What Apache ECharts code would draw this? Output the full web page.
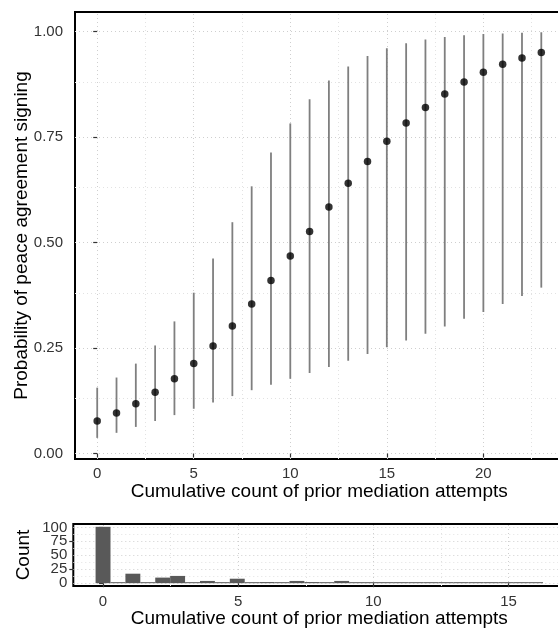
<!DOCTYPE html>
<html>
<head>
<meta charset="utf-8">
<script src="https://cdn.jsdelivr.net/npm/echarts@6/dist/echarts.min.js"></script>
<style>
  html, body { margin: 0; padding: 0; background: #fff; overflow: hidden; }
  /* wider than the window: the panels run past the right edge, as in the original */
  #chart { width: 580px; height: 631px; }
</style>
</head>
<body>
<div id="chart"></div>
<script>
// predicted probability by prior mediation count
var attempts = [0, 1, 2, 3, 4, 5, 6, 7, 8, 9, 10, 11, 12, 13, 14, 15, 16, 17, 18, 19, 20, 21, 22, 23];
var probFit = [0.077, 0.096, 0.118, 0.145, 0.177, 0.213, 0.255, 0.302, 0.354, 0.410, 0.468, 0.526,
  0.584, 0.640, 0.692, 0.740, 0.783, 0.820, 0.852, 0.880, 0.903, 0.922, 0.937, 0.950];
var probLow = [0.037, 0.049, 0.063, 0.077, 0.091, 0.106, 0.121, 0.136, 0.150, 0.163, 0.177, 0.191,
  0.205, 0.220, 0.236, 0.252, 0.268, 0.284, 0.301, 0.319, 0.335, 0.354, 0.373, 0.393];
var probHigh = [0.156, 0.180, 0.213, 0.256, 0.313, 0.381, 0.462, 0.548, 0.633, 0.713, 0.782, 0.839,
  0.884, 0.917, 0.942, 0.960, 0.972, 0.981, 0.987, 0.991, 0.994, 0.995, 0.997, 0.998];

var xTicks = [0, 5, 10, 15, 20];
var xMinor = [2.5, 7.5, 12.5, 17.5, 22.5];
var yTicks = [0, 0.25, 0.5, 0.75, 1];
var yMinor = [0.125, 0.375, 0.625, 0.875];

// histogram (30 bins)
var histCounts = [101, 0, 17, 0, 10, 13, 0, 4, 0, 8, 0, 2, 0, 4, 2, 0, 4, 0, 1, 0,
  0, 0, 0, 0, 0, 0, 0, 0, 0, 1];
var histBinWidth = 16 / 29;
var histXTicks = [0, 5, 10, 15];
var histXMinor = [2.5, 7.5, 12.5];
var histYTicks = [0, 25, 50, 75, 100];
var histYMinor = [12.5, 37.5, 62.5, 87.5];

var font = "'Liberation Sans', Arial, sans-serif";
var xTitle = 'Cumulative count of prior mediation attempts';

function gridLines(xs, ys, color) {
  var d = [];
  xs.forEach(function (v) { d.push({ xAxis: v, lineStyle: { color: color } }); });
  ys.forEach(function (v) { d.push({ yAxis: v, lineStyle: { color: color } }); });
  return d;
}

var chart = echarts.init(document.getElementById('chart'));

function axisX(idx, min, max, ticks, gap, margin) {
  return {
    type: 'value', gridIndex: idx, min: min, max: max,
    name: xTitle, nameLocation: 'middle', nameGap: gap, nameMoveOverlap: false,
    nameTextStyle: { fontFamily: font, fontSize: 19, color: '#000' },
    axisLine: { show: false },
    axisTick: { show: true, customValues: ticks, length: 4, lineStyle: { color: '#333', width: 1.2 } },
    axisLabel: { customValues: ticks, margin: margin, fontFamily: font, fontSize: 15, color: '#333' },
    splitLine: { show: false }
  };
}

// the count labels sit too close for one axis, so they are split over two
function countAxis(ticks, name) {
  return {
    type: 'value', gridIndex: 1, min: -5.05, max: 106.05, position: 'left',
    name: name, nameLocation: 'middle', nameGap: 40, nameMoveOverlap: false,
    nameTextStyle: { fontFamily: font, fontSize: 19, color: '#000' },
    axisLine: { show: false },
    axisTick: { show: true, customValues: ticks, length: 4, lineStyle: { color: '#333', width: 1.2 } },
    axisLabel: {
      customValues: ticks, margin: 6, fontFamily: font, fontSize: 15, color: '#333',
      showMinLabel: true, showMaxLabel: true
    },
    splitLine: { show: false }
  };
}

chart.setOption({
  animation: false,
  grid: [
    { left: 75, top: 12, width: 488.5, height: 447, outerBoundsMode: 'none',
      show: true, borderColor: '#000', borderWidth: 2 },
    { left: 73.3, top: 524, width: 492, height: 62, outerBoundsMode: 'none',
      show: true, borderColor: '#000', borderWidth: 2 }
  ],
  xAxis: [
    axisX(0, -1.15, 24.15, xTicks, 23.5, 7),
    axisX(1, -1.1, 17.1, histXTicks, 23, 8)
  ],
  yAxis: [
    {
      type: 'value', gridIndex: 0, min: -0.013, max: 1.046,
      name: 'Probability of peace agreement signing', nameLocation: 'middle', nameGap: 44,
      nameMoveOverlap: false,
      nameTextStyle: { fontFamily: font, fontSize: 19, color: '#000' },
      axisLine: { show: false },
      axisTick: { show: true, customValues: yTicks, length: 4, lineStyle: { color: '#333', width: 1.2 } },
      axisLabel: {
        customValues: yTicks, margin: 12, fontFamily: font, fontSize: 15, color: '#333',
        formatter: function (v) { return v.toFixed(2); }
      },
      splitLine: { show: false }
    },
    countAxis(histYTicks.filter(function (v, i) { return i % 2 === 0; }), 'Count'),
    countAxis(histYTicks.filter(function (v, i) { return i % 2 === 1; }), '')
  ],
  series: [
    {
      type: 'line', xAxisIndex: 0, yAxisIndex: 0, z: 0, silent: true, symbol: 'none',
      data: [[0, 0]], lineStyle: { opacity: 0 },
      markLine: {
        z: 0, silent: true, symbol: ['none', 'none'], label: { show: false },
        lineStyle: { type: [1, 3], width: 1 },
        data: gridLines(xTicks, yTicks, '#cfcfcf').concat(gridLines(xMinor, yMinor, '#e2e2e2'))
      }
    },
    {
      type: 'line', xAxisIndex: 1, yAxisIndex: 1, z: 0, silent: true, symbol: 'none',
      data: [[0, 0]], lineStyle: { opacity: 0 },
      markLine: {
        z: 0, silent: true, symbol: ['none', 'none'], label: { show: false },
        lineStyle: { type: [1, 3], width: 1 },
        data: gridLines(histXTicks, histYTicks, '#cfcfcf').concat(gridLines(histXMinor, histYMinor, '#e2e2e2'))
      }
    },
    {
      // error bars
      type: 'custom', xAxisIndex: 0, yAxisIndex: 0, z: 3,
      encode: { x: 0, y: [1, 2] },
      data: attempts.map(function (x, i) { return [x, probLow[i], probHigh[i]]; }),
      renderItem: function (params, api) {
        var p1 = api.coord([api.value(0), api.value(1)]);
        var p2 = api.coord([api.value(0), api.value(2)]);
        return {
          type: 'line',
          shape: { x1: p1[0], y1: p1[1], x2: p2[0], y2: p2[1] },
          style: { stroke: '#7f7f7f', lineWidth: 1.8 }
        };
      }
    },
    {
      type: 'scatter', xAxisIndex: 0, yAxisIndex: 0, z: 4,
      symbolSize: 7.5, itemStyle: { color: '#000' },
      data: attempts.map(function (x, i) { return [x, probFit[i]]; })
    },
    {
      // histogram bins
      type: 'custom', xAxisIndex: 1, yAxisIndex: 1, z: 3,
      encode: { x: 0, y: 1 },
      data: histCounts.map(function (n, k) { return [k * histBinWidth, n]; }),
      renderItem: function (params, api) {
        var c = api.value(0), n = api.value(1);
        var a = api.coord([c - histBinWidth / 2, n]);
        var b = api.coord([c + histBinWidth / 2, 0]);
        var h = Math.max(b[1] - a[1], 1);
        return {
          type: 'rect',
          shape: { x: a[0], y: b[1] - h, width: b[0] - a[0], height: h },
          style: { fill: '#595959' }
        };
      }
    }
  ]
});
</script>
</body>
</html>
